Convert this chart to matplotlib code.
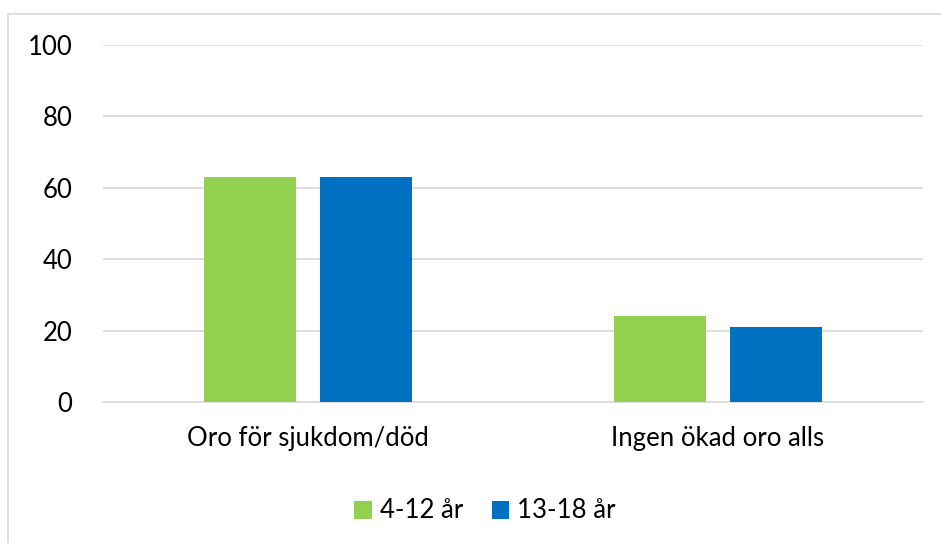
import matplotlib.pyplot as plt
from matplotlib.patches import Rectangle
import numpy as np

plt.rcParams['font.family'] = ['Lato', 'DejaVu Sans']

categories = ["Oro för sjukdom/död", "Ingen ökad oro alls"]
series = ["4-12 år", "13-18 år"]
young = [63, 24]
teens = [63, 21]
colors = ["#92D050", "#0070C0"]

fig = plt.figure(figsize=(9.41, 5.43), dpi=100)
# outer chart border (light grey), cut off at right and bottom
fig.patches.append(Rectangle((8 / 941, -0.05), 1.0, 1 - 14 / 543 + 0.05,
                             transform=fig.transFigure, fill=False,
                             edgecolor="#D9D9D9", linewidth=1.2))

ax = fig.add_axes([103 / 941, 1 - 402 / 543, 820 / 941, 357 / 543])

x = np.arange(len(categories))
w = 0.224
off = 0.141
ax.bar(x - off, young, w, color=colors[0], label=series[0], zorder=3)
ax.bar(x + off, teens, w, color=colors[1], label=series[1], zorder=3)

ax.set_xlim(-0.5, 1.5)
ax.set_ylim(0, 100)
ax.set_yticks(range(0, 101, 20))
ax.yaxis.grid(True, color="#D9D9D9", linewidth=1.2, zorder=0)
ax.set_xticks(x)
ax.set_xticklabels(categories, fontsize=18.5)
ax.tick_params(axis="y", labelsize=18.5, length=0, pad=22)
ax.tick_params(axis="x", length=0, pad=17)
for s in ["top", "right", "left"]:
    ax.spines[s].set_visible(False)
ax.spines["bottom"].set_color("#D9D9D9")
ax.spines["bottom"].set_linewidth(1.2)

fig.legend(loc="center", bbox_to_anchor=(485 / 941, 1 - 511 / 543), ncol=2,
           frameon=False, fontsize=18.5, handlelength=0.7, handleheight=0.7,
           handletextpad=0.3, columnspacing=1.1)

fig.savefig("out.png", dpi=100)
